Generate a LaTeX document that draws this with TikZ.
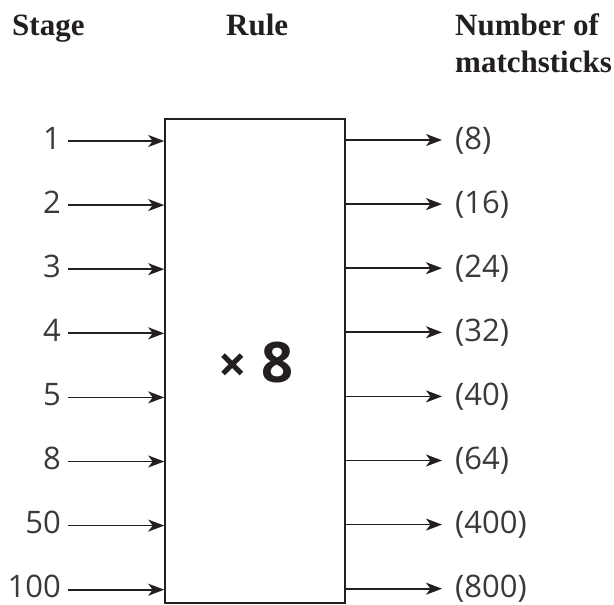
\documentclass[tikz,border=0pt]{standalone}
\usepackage{fontspec}
\setmainfont{Open Sans}
\newfontfamily\headfont{Liberation Serif}
\usetikzlibrary{arrows.meta}
\definecolor{ink}{HTML}{231F20}
\definecolor{numink}{HTML}{3A3A3A}
\begin{document}
\begin{tikzpicture}[x=1pt,y=-1pt,
  head/.style={inner sep=0pt, anchor=base west, text=ink,
    font=\headfont\bfseries\fontsize{31}{37}\selectfont},
  inlab/.style={inner sep=0pt, anchor=base east, text=numink,
    font=\fontsize{31}{31}\selectfont},
  outlab/.style={inner sep=0pt, anchor=base west, text=numink,
    font=\fontsize{31}{31}\selectfont},
  rulebox/.style={draw=ink, line width=1.6pt, inner sep=0pt,
    minimum width=180pt, minimum height=484pt},
  conn/.style={line width=1.7pt, draw=ink,
    -{Stealth[length=16pt,width=12pt,inset=4.5pt]}},
  ruletext/.style={inner sep=0pt, text=ink}
]
\useasboundingbox (0,0) rectangle (614,605);
\node[head] (hstage) at (12,35) {Stage};
\node[head] (hrule) at (226,35) {Rule};
\node[head] (hnum) at (455,35) {Number of};
\node[head] (hmatch) at (455,72) {matchsticks};
\node[rulebox] (box) at (255,361) {};
\node[ruletext] (times) at (256,363) {{\fontsize{50}{50}\bfseries\selectfont ×}\hspace{14pt}{\fontsize{56}{56}\bfseries\selectfont 8}};
\foreach \i/\a/\b in {0/1/8,1/2/16,2/3/24,3/4/32,4/5/40,5/8/64,6/50/400,7/100/800}{
  \pgfmathsetmacro{\yy}{141+64.1*\i}
  \coordinate (s\i) at (68,\yy);
  \coordinate (e\i) at (442,\yy-1);
  \node[inlab] (in\i) at (61,\yy+8) {\a};
  \node[outlab] (out\i) at (455,\yy+8) {(\b)};
  \draw[conn] (s\i) -- (s\i -| box.west);
  \draw[conn] (e\i -| box.east) -- (e\i);
}
\end{tikzpicture}
\end{document}
